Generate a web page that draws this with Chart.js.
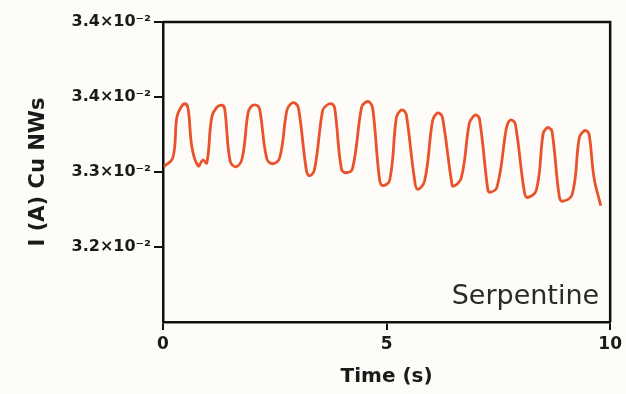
<!DOCTYPE html>
<html>
<head>
<meta charset="utf-8">
<script src="https://cdn.jsdelivr.net/npm/chart.js@4/dist/chart.umd.min.js"></script>
<style>
html,body{margin:0;padding:0;background:#fdfcf9;}
#wrap{width:626px;height:394px;position:relative;}
</style>
</head>
<body>
<div id="wrap"><canvas id="c" width="626" height="394"></canvas></div>
<script>
// Time (s)
const times = [0.02,0.22,0.31,0.40,0.49,0.56,0.65,0.79,0.89,0.98,
  1.09,1.20,1.32,1.38,1.50,1.63,1.77,1.90,1.98,2.09,
  2.16,2.32,2.45,2.61,2.77,2.86,2.95,3.03,3.21,3.28,
  3.39,3.57,3.66,3.77,3.84,3.99,4.10,4.24,4.44,4.53,
  4.62,4.69,4.84,4.91,5.07,5.22,5.31,5.38,5.44,5.62,
  5.69,5.85,6.03,6.12,6.19,6.25,6.45,6.49,6.67,6.85,
  6.94,7.01,7.08,7.26,7.30,7.47,7.68,7.74,7.81,7.88,
  8.08,8.15,8.35,8.50,8.57,8.63,8.70,8.86,8.93,9.15,
  9.31,9.40,9.47,9.53,9.64,9.79];
// Current I (A), Cu NWs
const current = [0.03307,0.03319,0.03373,0.03386,0.03391,0.03385,0.03332,0.03308,0.03316,0.03312,
  0.03373,0.03386,0.03389,0.03384,0.03315,0.03307,0.03318,0.03378,0.03388,0.03389,
  0.03384,0.03318,0.03311,0.03319,0.03382,0.03391,0.03392,0.03385,0.03301,0.03295,
  0.03304,0.03382,0.03389,0.03391,0.03385,0.03304,0.03299,0.03305,0.03386,0.03393,
  0.03393,0.03385,0.03291,0.03282,0.03289,0.03373,0.03382,0.03382,0.03377,0.03292,
  0.03277,0.03288,0.03369,0.03378,0.03378,0.03373,0.03288,0.03281,0.03292,0.03365,
  0.03374,0.03376,0.03370,0.03278,0.03273,0.03280,0.03359,0.03368,0.03369,0.03364,
  0.03274,0.03266,0.03276,0.03351,0.03358,0.03359,0.03354,0.03268,0.03261,0.03270,
  0.03346,0.03354,0.03355,0.03350,0.03292,0.03255];
const yTickValues = [0.032,0.033,0.034,0.035];
const yTickLabels = ['3.2\u00d710\u207b\u00b2','3.3\u00d710\u207b\u00b2','3.4\u00d710\u207b\u00b2','3.4\u00d710\u207b\u00b2'];
const xTickValues = [0,5,10];
const seriesLabel = 'Serpentine';

const points = times.map((t,i)=>({x:t,y:current[i]}));
const BOLD = '"DejaVu Sans"';
const ink = '#1a1a1a';

const bgPlugin = {
  id:'bg',
  beforeDraw(chart){
    const ctx=chart.ctx; ctx.save(); ctx.fillStyle='#fdfcf9';
    ctx.fillRect(0,0,chart.width,chart.height); ctx.restore();
  },
  afterDraw(chart){
    const {ctx, chartArea:a} = chart;
    ctx.save();
    ctx.strokeStyle='#111'; ctx.lineWidth=2.5;
    ctx.beginPath();
    ctx.moveTo(a.left, a.top); ctx.lineTo(a.right, a.top); ctx.lineTo(a.right, a.bottom);
    ctx.stroke();
    ctx.fillStyle='#2a2a2a';
    ctx.font='27px "DejaVu Sans"';
    ctx.textAlign='right'; ctx.textBaseline='alphabetic';
    ctx.fillText(seriesLabel, a.right-11, a.bottom-18);
    ctx.restore();
  }
};

new Chart(document.getElementById('c'), {
  type:'line',
  data:{datasets:[{
    label:seriesLabel, data:points,
    borderColor:'#e8532b', borderWidth:2.8, pointRadius:0,
    tension:0.4, fill:false
  }]},
  options:{
    responsive:false, animation:false,
    layout:{padding:{left:0,top:22,right:15,bottom:0}},
    plugins:{legend:{display:false}, tooltip:{enabled:false}},
    scales:{
      x:{
        type:'linear', min:0, max:10,
        afterBuildTicks(s){ s.ticks = xTickValues.map(v=>({value:v})); },
        afterFit(s){ s.height = 72; },
        border:{display:true, color:'#111', width:2.5},
        grid:{display:true, drawOnChartArea:false, drawTicks:true, tickLength:8, color:'#111', lineWidth:2},
        ticks:{color:ink, padding:4, font:{family:BOLD, weight:'bold', size:17}, maxRotation:0},
        title:{display:true, text:'Time (s)', color:ink, font:{family:BOLD, weight:'bold', size:20}, padding:{top:0,bottom:5}}
      },
      y:{
        type:'linear', min:0.031, max:0.035,
        afterBuildTicks(s){ s.ticks = yTickValues.map(v=>({value:v})); },
        afterFit(s){ s.width = 163; },
        border:{display:true, color:'#111', width:2.5},
        grid:{display:true, drawOnChartArea:false, drawTicks:true, tickLength:9, color:'#111', lineWidth:2},
        ticks:{color:ink, padding:3, font:{family:BOLD, weight:'bold', size:16},
          callback(v, i){ const k = yTickValues.indexOf(v); return k>=0 ? yTickLabels[k] : ''; }},
        title:{display:true, text:'I (A) Cu NWs', color:ink, font:{family:BOLD, weight:'bold', size:21}, padding:{top:26,bottom:0}}
      }
    }
  },
  plugins:[bgPlugin]
});
</script>
</body>
</html>
